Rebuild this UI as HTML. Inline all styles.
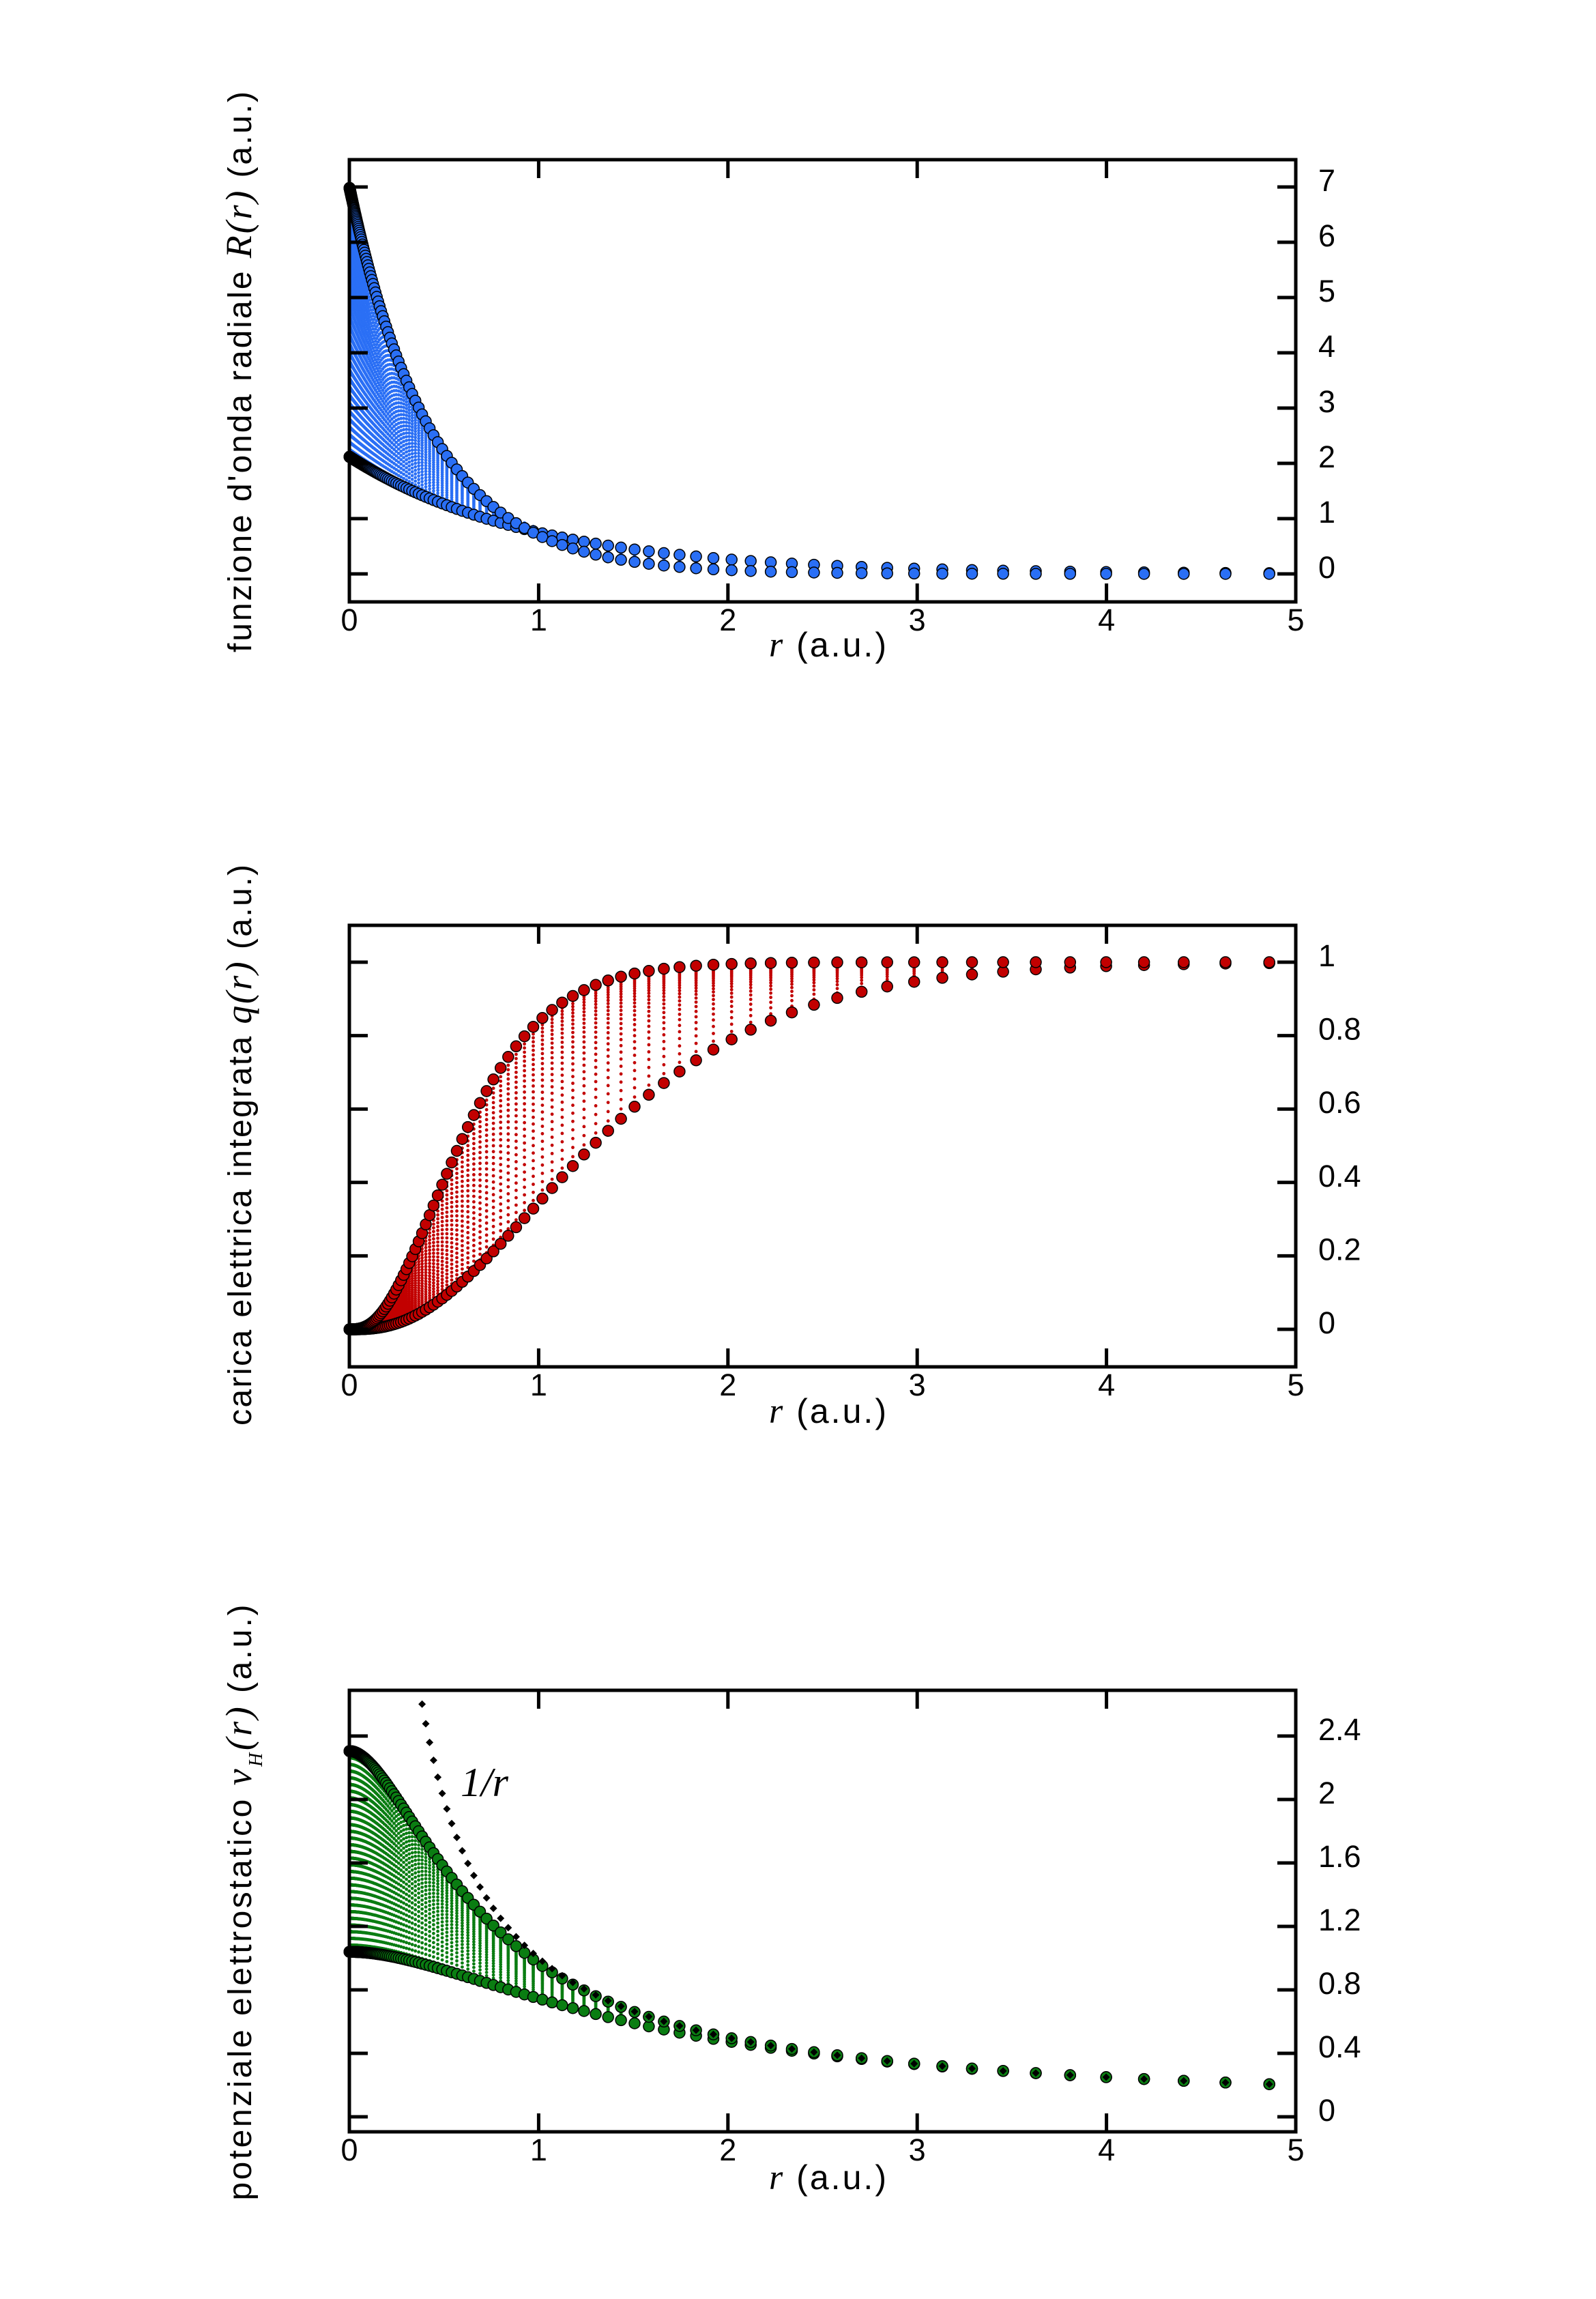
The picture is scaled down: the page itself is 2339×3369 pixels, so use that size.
<!DOCTYPE html>
<html><head><meta charset="utf-8">
<style>
html,body{margin:0;padding:0;background:#fff;}
svg{display:block;}
text{font-family:"Liberation Sans",Arial,sans-serif;fill:#000;}
.it{font-family:"Liberation Serif",serif;font-style:italic;}
</style></head>
<body>
<svg id="s" xmlns="http://www.w3.org/2000/svg" width="2339" height="3369" viewBox="0 0 2339 3369">
<rect width="2339" height="3369" fill="#fff"/>
<g id="data"></g>
<g id="axes" fill="none" stroke="#000" stroke-width="5"></g>
<g id="labels" font-size="45"></g>
<!-- axis titles -->
<text x="0" y="0" font-size="48" transform="translate(368,545) rotate(-90)" text-anchor="middle" textLength="822" lengthAdjust="spacing">funzione d'onda radiale <tspan class="it" font-size="54">R(r)</tspan> (a.u.)</text>
<text x="0" y="0" font-size="48" transform="translate(368,1678) rotate(-90)" text-anchor="middle" textLength="822" lengthAdjust="spacing">carica elettrica integrata <tspan class="it" font-size="54">q(r)</tspan> (a.u.)</text>
<text x="0" y="0" font-size="48" transform="translate(368,2788) rotate(-90)" text-anchor="middle" textLength="873" lengthAdjust="spacing">potenziale elettrostatico  <tspan class="it" font-size="54">v</tspan><tspan class="it" font-size="28" dy="16">H</tspan><tspan class="it" font-size="54" dy="-16">(r)</tspan>  (a.u.)</text>
<text x="1213" y="962" font-size="50" text-anchor="middle" textLength="172" lengthAdjust="spacing"><tspan class="it" font-size="52">r</tspan>  (a.u.)</text>
<text x="1213" y="2085" font-size="50" text-anchor="middle" textLength="172" lengthAdjust="spacing"><tspan class="it" font-size="52">r</tspan>  (a.u.)</text>
<text x="1213" y="3208" font-size="50" text-anchor="middle" textLength="172" lengthAdjust="spacing"><tspan class="it" font-size="52">r</tspan>  (a.u.)</text>
<text x="675" y="2632" class="it" font-size="60">1/r</text>
</svg>
<script>
(function(){
var X0=512,X1=1899,SX=(X1-X0)/5;
function px(r){return X0+SX*r;}
var plots=[
 {top:234,bot:882,y0:841,sy:81,ticks:[0,1,2,3,4,5,6,7],fmt:function(v){return ""+v;},col:"#2a6ff5",
  f:function(Z,r){return 2*Math.pow(Z,1.5)*Math.exp(-Z*r);}},
 {top:1356,bot:2003,y0:1948,sy:538,ticks:[0,0.2,0.4,0.6,0.8,1],fmt:function(v){return v===0?"0":v===1?"1":v.toFixed(1);},col:"#c20000",
  f:function(Z,r){var a=2*Z*r;return 1-Math.exp(-a)*(1+a+a*a/2);}},
 {top:2477,bot:3124,y0:3102,sy:232.5,ticks:[0,0.4,0.8,1.2,1.6,2,2.4],fmt:function(v){return v===0?"0":v===2?"2":v.toFixed(1);},col:"#0a7d12",
  f:function(Z,r){if(r<1e-6)return Z;return 1/r-Math.exp(-2*Z*r)*(Z+1/r);}}
];
var grid=[];for(var k=0;k<175;k++){grid.push(4.86/Math.pow(1.05,k));}
var ZT=2.305,ZB=1.04,NC=30;
var data=document.getElementById("data"),axes=document.getElementById("axes"),labels=document.getElementById("labels");
var html="";
plots.forEach(function(p,pi){
  function py(v){return p.y0-p.sy*v;}
  for(var c=1;c<NC;c++){
    var Z=ZB+(ZT-ZB)*c/NC;
    for(var i=0;i<grid.length;i++){var r=grid[i];
      var y=py(p.f(Z,r)); if(y<p.top) continue;
      html+='<circle cx="'+px(r).toFixed(1)+'" cy="'+y.toFixed(1)+'" r="2.4" fill="'+p.col+'"/>';}
  }
  [ZB,ZT].forEach(function(Z){
    for(var i=grid.length-1;i>=0;i--){var r=grid[i];
      var y=py(p.f(Z,r));
      html+='<circle cx="'+px(r).toFixed(1)+'" cy="'+y.toFixed(1)+'" r="8" fill="'+p.col+'" stroke="#000" stroke-width="1.5"/>';}
  });
  if(pi===2){
    for(var i=0;i<grid.length;i++){var r=grid[i]; if(r<0.38) break;
      var x=px(r),y=py(1/r);
      html+='<path d="M'+(x-5.5).toFixed(1)+' '+y.toFixed(1)+'l5.5 -5.5l5.5 5.5l-5.5 5.5z" fill="#000"/>';}
  }
  var a='<rect x="'+X0+'" y="'+p.top+'" width="'+(X1-X0)+'" height="'+(p.bot-p.top)+'"/>';
  for(var t=1;t<5;t++){var x=px(t);a+='<path d="M'+x+' '+p.top+'v27M'+x+' '+p.bot+'v-27"/>';}
  p.ticks.forEach(function(v){var y=py(v);a+='<path d="M'+X0+' '+y+'h27M'+X1+' '+y+'h-27"/>';
    labels.insertAdjacentHTML("beforeend",'<text x="1932" y="'+(y+6).toFixed(1)+'">'+p.fmt(v)+'</text>');});
  axes.insertAdjacentHTML("beforeend",a);
  for(var t=0;t<=5;t++){labels.insertAdjacentHTML("beforeend",'<text x="'+px(t)+'" y="'+(p.bot+42)+'" text-anchor="middle">'+t+'</text>');}
});
data.innerHTML=html;
})();
</script>
</body></html>
